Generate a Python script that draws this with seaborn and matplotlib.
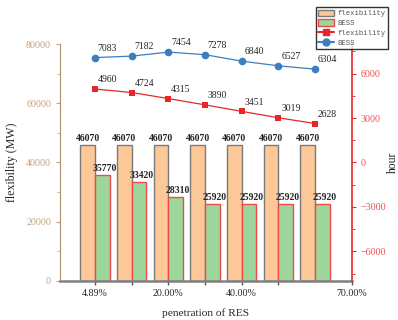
import numpy as np
import pandas as pd
import matplotlib
matplotlib.use("Agg")
import matplotlib.pyplot as plt
from matplotlib.patches import Patch
from matplotlib.lines import Line2D
from matplotlib.ticker import MultipleLocator
import seaborn as sns

# data
groups = [0, 1, 2, 3, 4, 5, 6]
flex_mw = [46070, 46070, 46070, 46070, 46070, 46070, 46070]
bess_mw = [35770, 33420, 28310, 25920, 25920, 25920, 25920]
flex_hour = [4960, 4724, 4315, 3890, 3451, 3019, 2628]
bess_hour = [7083, 7182, 7454, 7278, 6840, 6527, 6304]
tick_pos = [0, 2, 4, 7]
tick_labels = ["4.89%", "20.00%", "40.00%", "70.00%"]

sns.set_style("ticks")
plt.rcParams['font.family'] = ['Liberation Serif', 'DejaVu Serif']

orange = "#FDC897"
green = "#9DD69A"
red = "#E8262A"
blue = "#3B7FC0"
tan = "#C4A27E"

bars = pd.DataFrame({
    "group": groups * 2,
    "value": flex_mw + bess_mw,
    "series": ["flexibility"] * 7 + ["BESS"] * 7,
})

fig = plt.figure(figsize=(3.98, 3.2), dpi=100)
ax = fig.add_axes([0.151, 0.122, 0.733, 0.7405])

sns.barplot(data=bars, x="group", y="value", hue="series",
            palette=[orange, green], saturation=1, width=0.8, legend=False, ax=ax)
for i, p in enumerate(ax.patches):
    if i < 7:
        p.set_edgecolor("#7a7a7a")
    else:
        p.set_edgecolor("#F04848")
    p.set_linewidth(1.0)

for g, v in zip(groups, flex_mw):
    ax.text(g - 0.2, v + 600, str(v), ha="center", va="bottom",
            fontsize=7, fontweight="bold")
for g, v in zip(groups, bess_mw):
    ax.text(g + 0.26, v + 600, str(v), ha="center", va="bottom",
            fontsize=7, fontweight="bold")

ax.set_xlim(-0.95, 7.0)
ax.set_ylim(0, 80000)
ax.yaxis.set_major_locator(MultipleLocator(20000))
ax.yaxis.set_minor_locator(MultipleLocator(10000))
ax.set_xticks(tick_pos)
ax.set_xticklabels(tick_labels)
ax.set_xticks([1, 3, 5], minor=True)
ax.tick_params(axis="x", labelsize=7.2, length=3, width=1, color="#555555", pad=3)
ax.tick_params(axis="x", which="minor", length=3, width=1, color="#555555")
ax.tick_params(axis="y", labelsize=7.2, labelcolor=tan, color=tan, length=3)
ax.tick_params(axis="y", which="minor", color=tan, length=2)
ax.set_xlabel("penetration of RES", fontsize=8.2, labelpad=7)
ax.set_ylabel("flexibility (MW)", fontsize=8.6, labelpad=6)
ax.spines["left"].set_color("#B08D6C")
ax.spines["bottom"].set_color("#808080")
ax.spines["bottom"].set_linewidth(1.8)
ax.spines["top"].set_visible(False)
ax.spines["right"].set_visible(False)

ax2 = ax.twinx()
sns.lineplot(x=groups, y=flex_hour, color=red, marker="s", markersize=5,
             markeredgewidth=0, linewidth=0.9, ax=ax2)
sns.lineplot(x=groups, y=bess_hour, color=blue, marker="o", markersize=5.5,
             markeredgewidth=0, linewidth=0.9, ax=ax2)
for g, v in zip(groups, flex_hour):
    ax2.annotate(str(v), (g, v), xytext=(2, 3.5), textcoords="offset points",
                 fontsize=7, ha="left", va="bottom")
for g, v in zip(groups, bess_hour):
    ax2.annotate(str(v), (g, v), xytext=(2, 3.5), textcoords="offset points",
                 fontsize=7, ha="left", va="bottom")

ax2.set_ylim(-8000, 8000)
ax2.yaxis.set_major_locator(MultipleLocator(3000))
ax2.yaxis.set_minor_locator(MultipleLocator(1500))
ax2.tick_params(axis="y", labelsize=7.2, labelcolor="#F05050", color=red, length=3)
ax2.tick_params(axis="y", which="minor", color=red, length=2)
ax2.set_ylabel("hour", fontsize=8.4, labelpad=0)
ax2.spines["right"].set_color(red)
ax2.spines["right"].set_linewidth(1.2)
for s in ["top", "left", "bottom"]:
    ax2.spines[s].set_visible(False)
ax.set_xlim(-0.95, 7.0)

handles = [
    Patch(facecolor=orange, edgecolor="#7a7a7a", label="flexibility"),
    Patch(facecolor=green, edgecolor="#F04848", label="BESS"),
    Line2D([], [], color=red, marker="s", markersize=5, label="flexibility"),
    Line2D([], [], color=blue, marker="o", markersize=5, label="BESS"),
]
leg = fig.legend(handles=handles, loc="upper right", bbox_to_anchor=(0.975, 0.977),
                 frameon=True, fancybox=False, edgecolor="black",
                 prop={"family": "Liberation Mono", "size": 5.2},
                 labelcolor="#555555", handlelength=2.2, handleheight=1.0,
                 borderpad=0.3, labelspacing=0.3, handletextpad=0.5,
                 borderaxespad=0)
leg.get_frame().set_linewidth(1.0)

fig.savefig("out.png", dpi=100)
